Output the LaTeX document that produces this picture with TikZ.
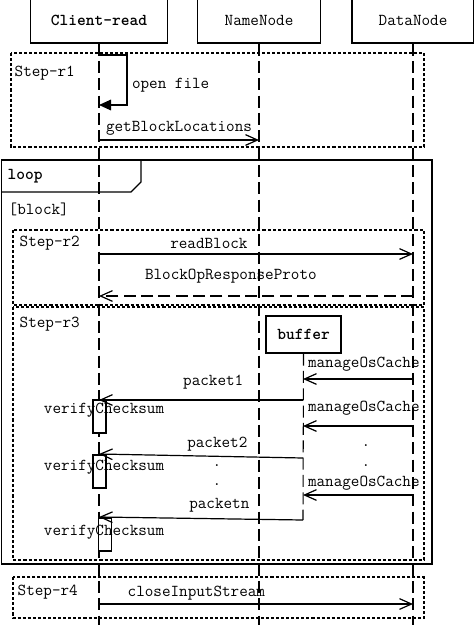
\documentclass[tikz,border=0pt]{standalone}
\usetikzlibrary{arrows.meta,positioning}

\begin{document}
\begin{tikzpicture}[x=0.75pt,y=-0.75pt,
    font=\ttfamily\fontsize{12.5}{14}\selectfont,
    head/.style={draw,line width=0.9pt,minimum width=#1,minimum height=34.5pt,inner sep=0pt},
    lifeline/.style={line width=0.8pt,dash pattern=on 9pt off 4pt},
    stepframe/.style={line width=2pt,dash pattern=on 2.3pt off 1.5pt},
    msg/.style={line width=0.9pt,-{Straight Barb[length=9pt,width=8pt]}},
    reply/.style={msg,dash pattern=on 9pt off 4pt},
    act/.style={draw,fill=white,line width=0.8pt,minimum width=9.75pt,minimum height=24.75pt,inner sep=0pt}]
    \clip (0,0) rectangle (474,625);
    \node[head=102.75pt] (client) at (99,20) {\bfseries Client-read};
    \node[head=92.25pt] (namenode) at (259,20) {NameNode};
    \node[head=91.5pt] (datanode) at (413,20) {DataNode};
    \foreach \n in {client,namenode,datanode}
        \draw[lifeline] (\n.south) -- ++(0,590);

    \draw[stepframe] (11,53) rectangle (424,147);
    \draw[stepframe] (13,230) rectangle (424,305);
    \draw[stepframe] (13,307) rectangle (424,560);
    \draw[stepframe] (13,577) rectangle (424,618);
    \node[anchor=west] (r1) at (10,73) {Step-r1};
    \node[anchor=west] (r2) at (15,243) {Step-r2};
    \node[anchor=west] (r3) at (15,324) {Step-r3};
    \node[anchor=west] (r4) at (13,592) {Step-r4};

    \draw[line width=0.9pt] (1.5,160) rectangle (432,564);
    \draw[line width=0.9pt] (1.5,192) -- (131,192) -- (141,182) -- (141,160);
    \node[anchor=west] (loop) at (3,176) {\bfseries loop};
    \node[anchor=west] (guard) at (4,209) {[block]};

    \node[act] (act1) at (99.5,416.5) {};
    \node[act] (act2) at (99.5,471.5) {};
    \node[act] (act3) at (105,534.5) {};
    \node[draw,fill=white,line width=0.9pt,minimum width=56.25pt,minimum height=27.75pt]
        (buffer) at (303.5,334.5) {\bfseries buffer};
    \coordinate (b3) at (303,520);
    \draw[lifeline] (buffer.south) -- (b3);

    \coordinate (s0) at (99,55);
    \coordinate (s1) at (99,105);
    \coordinate (g0) at (99,140);
    \coordinate (g1) at (259,140);
    \coordinate (rb0) at (99,254);
    \coordinate (rb1) at (413,254);
    \coordinate (bo0) at (413,296);
    \coordinate (bo1) at (99,296);
    \coordinate (m1) at (413,379);
    \coordinate (b1) at (303,379);
    \coordinate (m2) at (413,426);
    \coordinate (b2) at (303,426);
    \coordinate (m3) at (413,495);
    \coordinate (b4) at (303,495);
    \coordinate (p1) at (303,400);
    \coordinate (c1) at (99,400);
    \coordinate (p2) at (303,458);
    \coordinate (c2) at (99,454);
    \coordinate (c3) at (99,517);
    \coordinate (ci0) at (99,604);
    \coordinate (ci1) at (413,604);

    \draw[line width=0.9pt,-{Triangle[length=9pt,width=8pt]}]
        (s0) -- ++(28,0) |- (s1) node[pos=0.3,right] {open file};
    \draw[msg] (g0) -- node[above] {getBlockLocations} (g1);
    \draw[msg] (rb0) -- node[above,pos=0.35] {readBlock} (rb1);
    \draw[reply] (bo0) -- node[above=6pt,pos=0.58] {BlockOpResponseProto} (bo1);
    \draw[msg] (m1) -- (b1) node[anchor=south west,yshift=2pt] {manageOsCache};
    \draw[msg] (m2) -- (b2) node[anchor=south west,yshift=4pt] {manageOsCache};
    \draw[msg] (m3) -- (b4) node[anchor=south west] {manageOsCache};
    \draw[msg] (p1) -- node[above=4pt,pos=0.44] {packet1} (c1);
    \draw[msg] (p2) -- node[above,pos=0.42] {packet2} (c2);
    \draw[msg] (b3) -- node[above=1pt,pos=0.41] {packetn} (c3);
    \draw[msg] (ci0) -- node[above=-1pt,pos=0.31] {closeInputStream} (ci1);

    \node (v1) at (104,410) {verifyChecksum};
    \node (v2) at (104,467) {verifyChecksum};
    \node (v3) at (104,532) {verifyChecksum};
    \foreach \p in {(217,466),(217,485),(366,446),(366,466)}
        \node at \p {.};
\end{tikzpicture}
\end{document}
